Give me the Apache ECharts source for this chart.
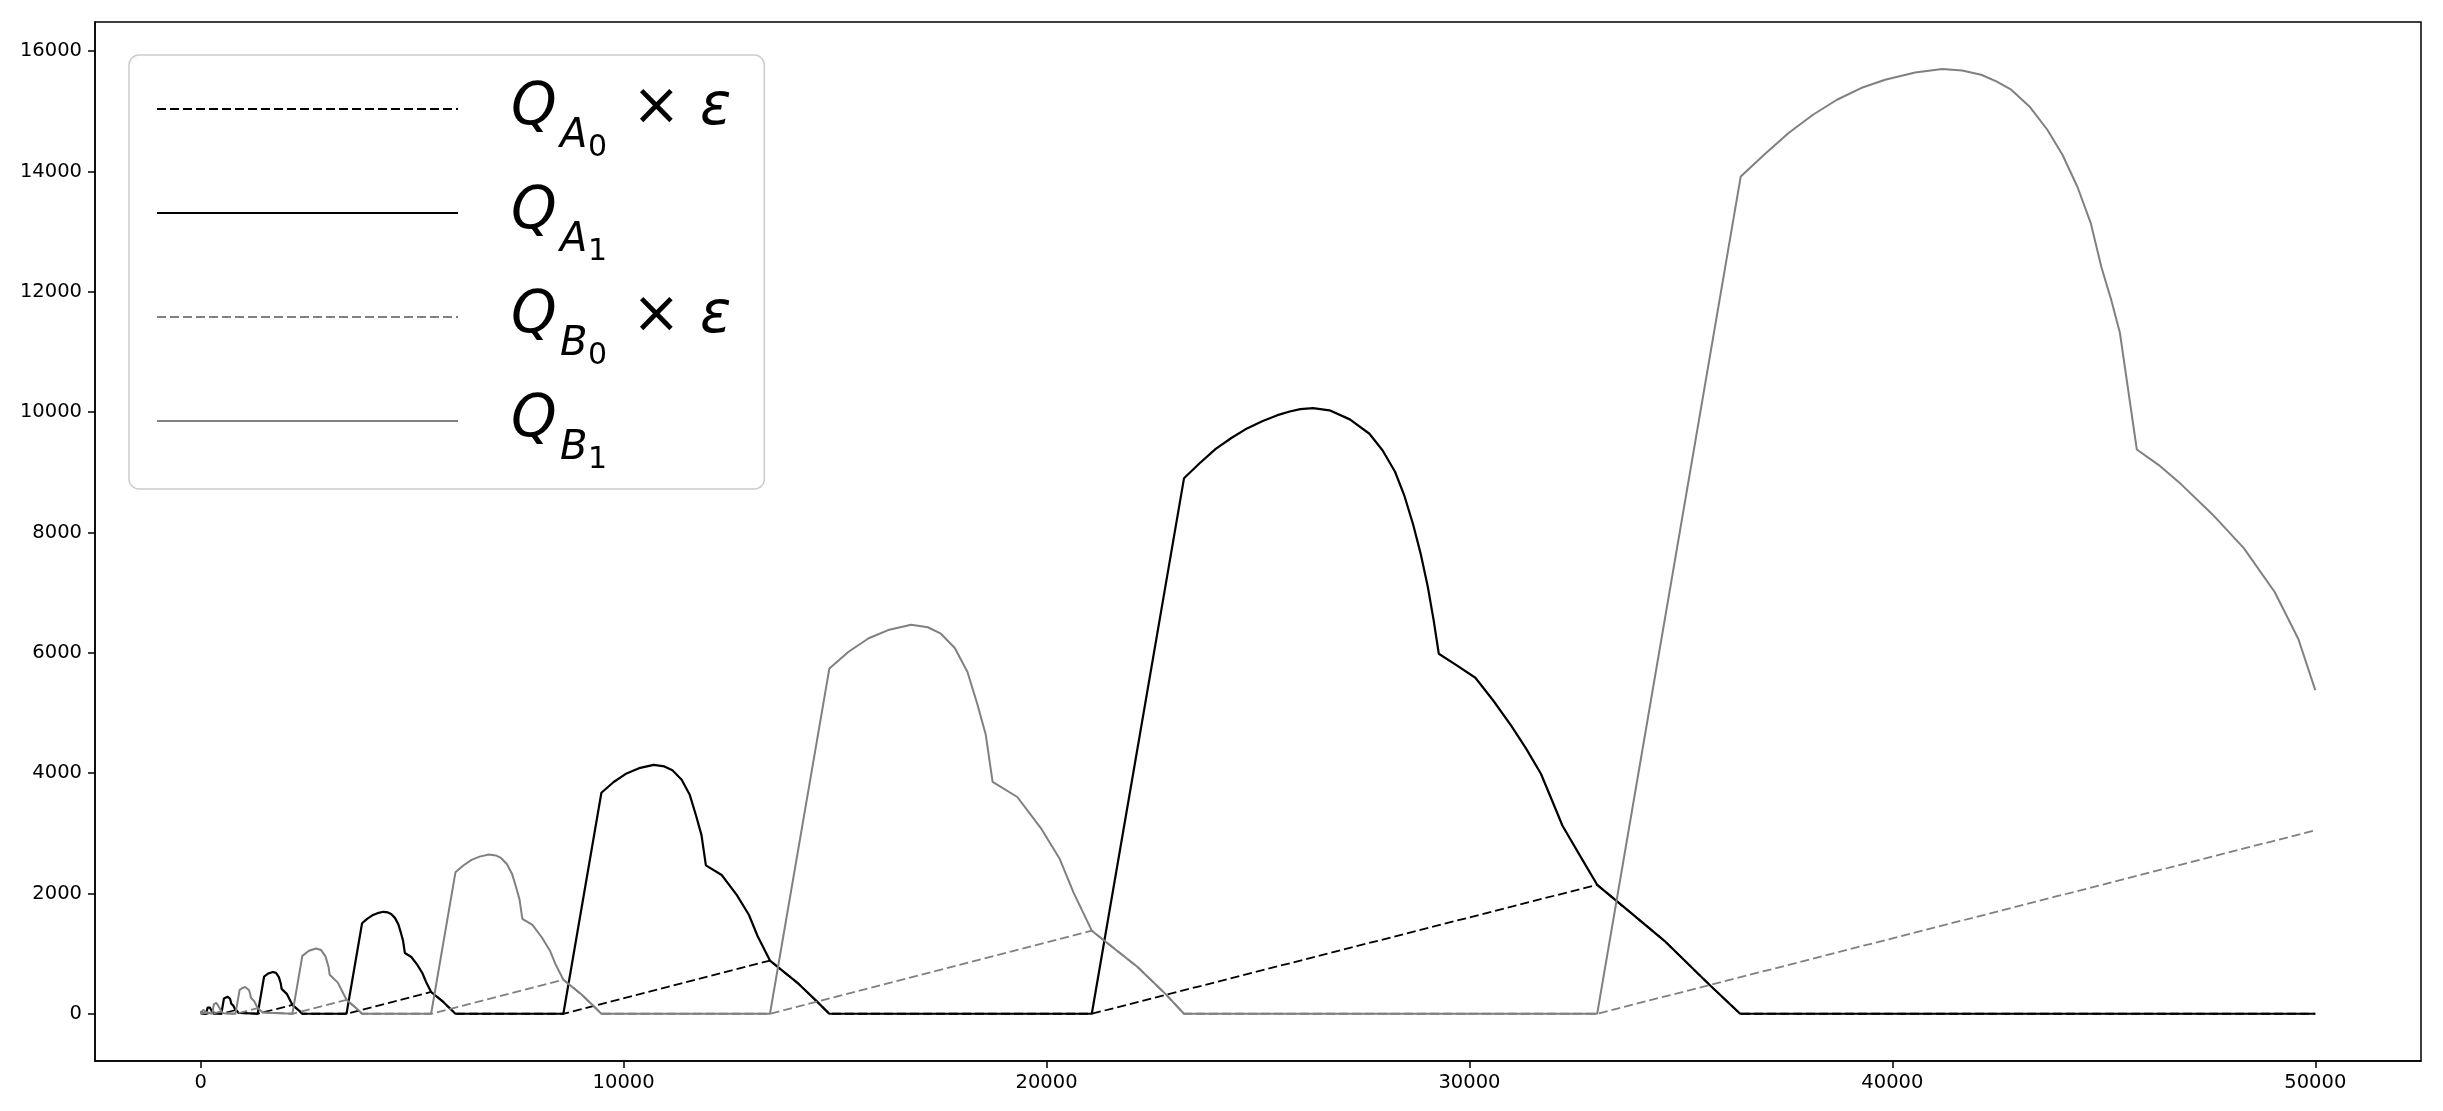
<!DOCTYPE html>
<html>
<head>
<meta charset="utf-8">
<script src="https://cdn.jsdelivr.net/npm/echarts@6/dist/echarts.min.js"></script>
<style>
  html, body { margin: 0; padding: 0; background: #ffffff; }
  #chart { width: 2443px; height: 1111px; }
</style>
</head>
<body>
<div id="chart"></div>
<script>
// ---- data (x = time, y = quantity) ----
const xTicks = [0, 10000, 20000, 30000, 40000, 50000];
const yTicks = [0, 2000, 4000, 6000, 8000, 10000, 12000, 14000, 16000];

const seriesNames = ['Q_A0 × ε', 'Q_A1', 'Q_B0 × ε', 'Q_B1'];

// Q_A0 × ε (black dashed)
const qa0 = [
  [0,0],[46,10],[62,0],
  [134,0],[272,25],[312,0],
  [487,0],[823,61],[899,14],[919,0],
  [1347,0],[2167,148],[2352,35],[2402,0],
  [3447,0],[5448,362],[5723,205],[5901,84],[6022,0],
  [8575,0],[13460,884],[14133,500],[14568,206],[14863,0],
  [21070,0],[33020,2144],[33840,1664],[34610,1213],[35650,500],[36400,0],
  [50000,0]
];

// Q_A1 (black solid)
const qa1 = [
  [0,42],[15,48],[29,28],[46,10],[62,0],
  [134,0],[160,103],[195,117],[219,102],[229,69],[258,46],[272,25],[312,0],
  [487,0],[549,253],[590,275],[634,284],[664,278],[692,250],[711,204],[719,170],[769,136],[803,89],[823,61],[899,14],[919,0],
  [1347,0],[1498,616],[1598,670],[1705,694],[1780,679],[1848,610],[1895,498],[1912,414],[2035,331],[2118,216],[2167,148],[2352,35],[2402,0],
  [3447,0],[3815,1505],[3934,1578],[4059,1636],[4180,1672],[4322,1695],[4425,1684],[4503,1658],[4592,1594],[4671,1490],[4731,1352],[4784,1216],[4827,1010],[4980,944],[5126,809],[5243,674],[5329,528],[5448,362],[5723,205],[5901,84],[6022,0],
  [8575,0],[9474,3674],[9765,3852],[10069,3995],[10364,4082],[10712,4138],[10963,4112],[11154,4047],[11372,3891],[11563,3639],[11710,3300],[11841,2970],[11945,2467],[12318,2306],[12674,1976],[12961,1646],[13169,1289],[13460,884],[14133,500],[14568,206],[14863,0],
  [21070,0],[23250,8900],[23620,9150],[24000,9390],[24370,9570],[24740,9730],[25100,9850],[25460,9950],[25750,10010],[26000,10050],[26300,10068],[26690,10030],[27172,9880],[27635,9641],[27948,9363],[28240,9009],[28463,8607],[28670,8128],[28844,7653],[29015,7098],[29154,6539],[29275,5984],[29700,5790],[30140,5585],[30566,5203],[30990,4787],[31340,4408],[31690,3989],[31946,3557],[32200,3125],[32634,2603],[33020,2144],[33840,1664],[34610,1213],[35650,500],[36400,0],
  [50000,0]
];

// Q_B0 × ε (grey dashed)
const qb0 = [
  [0,0],
  [46,0],[135,16],[160,0],
  [272,0],[487,39],[536,9],[549,0],
  [822,0],[1347,95],[1466,22],[1498,0],
  [2167,0],[3448,232],[3738,54],[3816,0],
  [5448,0],[8575,566],[9005,320],[9283,132],[9472,0],
  [13460,0],[21070,1381],[22145,782],[22823,322],[23250,0],
  [33020,0],[50000,3050]
];

// Q_B1 (grey solid)
const qb1 = [
  [0,0],
  [46,0],[63,66],[85,75],[100,66],[107,44],[126,30],[135,16],[160,0],
  [272,0],[312,162],[338,176],[366,182],[385,178],[403,160],[416,131],[420,108],[452,87],[474,57],[487,39],[536,9],[549,0],
  [822,0],[919,394],[983,429],[1052,444],[1099,435],[1143,391],[1173,319],[1184,265],[1263,212],[1316,138],[1347,95],[1466,22],[1498,0],
  [2167,0],[2403,963],[2559,1047],[2727,1085],[2843,1061],[2950,954],[3023,779],[3050,647],[3242,518],[3372,338],[3448,232],[3738,54],[3816,0],
  [5448,0],[6023,2351],[6209,2465],[6404,2557],[6593,2612],[6815,2648],[6976,2632],[7099,2590],[7238,2490],[7360,2329],[7454,2112],[7538,1901],[7605,1578],[7844,1476],[8071,1264],[8255,1053],[8388,825],[8575,566],[9005,320],[9283,132],[9472,0],
  [13460,0],[14865,5740],[15319,6018],[15794,6242],[16255,6378],[16798,6466],[17192,6425],[17490,6324],[17830,6079],[18128,5686],[18359,5157],[18562,4641],[18725,3854],[19309,3603],[19865,3087],[20313,2572],[20639,2014],[21070,1381],[22145,782],[22823,322],[23250,0],
  [33020,0],[36415,13918],[37000,14300],[37553,14643],[38123,14943],[38690,15193],[39260,15387],[39828,15525],[40539,15647],[41180,15703],[41648,15680],[42100,15608],[42459,15497],[42810,15359],[43241,15082],[43665,14694],[44022,14279],[44375,13747],[44691,13143],[44940,12418],[45174,11868],[45380,11320],[45780,9380],[46300,9120],[46830,8800],[47570,8300],[48310,7740],[49040,7010],[49600,6230],[50000,5380]
];

// legend label pieces: [subscript letter, sub-subscript digit, has "× ε"]
const legendParts = [['A','0',true],['A','1',false],['B','0',true],['B','1',false]];

// ---- chart ----
const FONT = 'DejaVu Sans';
const chart = echarts.init(document.getElementById('chart'), null, {renderer: 'canvas'});

function legendLabel(name) {
  const i = seriesNames.indexOf(name);
  const p = legendParts[i];
  let s = '{sp| }{q|Q}{s|' + p[0] + '}{ss|' + p[1] + '}';
  if (p[2]) s += '{op|×}{e|ε}';
  return s;
}

const seriesStyles = [
  {color: '#000000', width: 1.8, type: [9, 4]},
  {color: '#000000', width: 2.2, type: 'solid'},
  {color: '#808080', width: 1.8, type: [9, 4]},
  {color: '#808080', width: 2.0, type: 'solid'}
];
const seriesData = [qa0, qa1, qb0, qb1];

chart.setOption({
  animation: false,
  backgroundColor: '#ffffff',
  grid: {
    left: 95, right: 22, top: 22, bottom: 50,
    show: true, borderColor: '#000000', borderWidth: 1.5, backgroundColor: 'transparent'
  },
  xAxis: {
    type: 'value', min: -2500, max: 52500,
    splitLine: {show: false},
    axisLine: {show: true, onZero: false, lineStyle: {color: '#000', width: 1.5}},
    axisTick: {show: true, customValues: xTicks, length: 7, inside: false, lineStyle: {color: '#000', width: 1.5}},
    axisLabel: {customValues: xTicks, color: '#000', fontSize: 19.5, fontFamily: FONT, margin: 12,
      formatter: v => String(v)}
  },
  yAxis: {
    type: 'value', min: -785, max: 16485,
    splitLine: {show: false},
    axisLine: {show: true, onZero: false, lineStyle: {color: '#000', width: 1.5}},
    axisTick: {show: true, customValues: yTicks, length: 7, inside: false, lineStyle: {color: '#000', width: 1.5}},
    axisLabel: {customValues: yTicks, color: '#000', fontSize: 19.5, fontFamily: FONT, margin: 13,
      formatter: v => String(v)}
  },
  legend: {
    show: true,
    orient: 'vertical',
    left: 129, top: 55,
    padding: [0, 33, 14, 27],
    itemGap: -4,
    itemWidth: 301,
    itemHeight: 14,
    backgroundColor: 'rgba(255,255,255,0.85)',
    borderColor: '#cccccc',
    borderWidth: 1.5,
    borderRadius: 10,
    selectedMode: false,
    itemStyle: {color: 'rgba(0,0,0,0)', borderColor: 'rgba(0,0,0,0)', borderWidth: 0, opacity: 0},
    formatter: legendLabel,
    textStyle: {
      color: '#000',
      fontFamily: FONT,
      rich: {
        sp: {width: 48, fontSize: 10, lineHeight: 10},
        q: {fontFamily: FONT, fontStyle: 'italic', fontSize: 58, lineHeight: 60, width: 49, color: '#000'},
        s: {fontFamily: FONT, fontStyle: 'italic', fontSize: 40, lineHeight: 10, padding: [56, 0, 0, 0], width: 28, color: '#000'},
        ss: {fontFamily: FONT, fontSize: 30, lineHeight: 10, padding: [78, 0, 0, 0], width: 44, color: '#000'},
        op: {fontFamily: FONT, fontSize: 58, lineHeight: 60, width: 68, color: '#000'},
        e: {fontFamily: FONT, fontStyle: 'italic', fontSize: 58, lineHeight: 60, color: '#000'}
      }
    },
    data: seriesNames.map(n => ({name: n}))
  },
  series: seriesNames.map((n, i) => ({
    name: n,
    type: 'line',
    data: seriesData[i],
    symbol: 'none',
    showSymbol: false,
    smooth: false,
    silent: true,
    z: 2 + i * 0.01,
    lineStyle: {color: seriesStyles[i].color, width: seriesStyles[i].width, type: seriesStyles[i].type},
    itemStyle: {color: seriesStyles[i].color},
    emphasis: {disabled: true}
  }))
});
</script>
</body>
</html>
